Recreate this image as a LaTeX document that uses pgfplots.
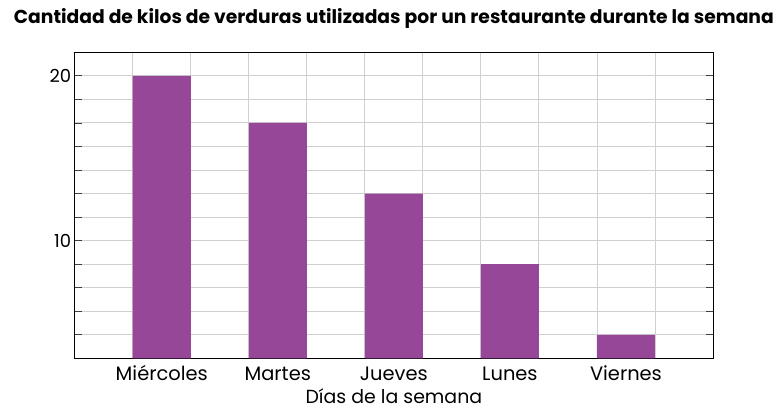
\documentclass[border=0pt]{standalone}
\usepackage{fontspec}
\setmainfont{Poppins}
\usepackage{pgfplots}
\pgfplotsset{compat=1.18}
\definecolor{barpurple}{RGB}{151,71,151}
\definecolor{gridgray}{RGB}{208,208,208}
\begin{document}
\begin{tikzpicture}
\begin{axis}[
  at={(74.7bp,53.7bp)}, anchor=south west,
  scale only axis, width=638.3bp, height=306bp,
  xmin=0, xmax=11, ymin=2.857143, ymax=21.428571,
  axis line style={black, line width=0.9bp},
  xtick={1,...,10}, xticklabels={},
  major x tick style={draw=none},
  xmajorgrids,
  extra x ticks={1.5,3.5,5.5,7.5,9.5},
  extra x tick labels={Miércoles,Martes,Jueves,Lunes,Viernes},
  extra x tick style={grid=none, major tick length=0pt},
  ytick={10,20},
  minor ytick={4.285714,5.714286,7.142857,8.571429,11.428571,12.857143,14.285714,15.714286,17.142857,18.571429},
  ymajorgrids, yminorgrids,
  grid style={gridgray, line width=0.9bp},
  ytick pos=both,
  tick align=inside,
  major tick length=7bp, minor tick length=7bp,
  tick style={black!75, line width=0.8bp},
  /pgf/number format/assume math mode=true,
  yticklabel style={font=\fontsize{18}{21}\selectfont, text=black},
  xticklabel style={font=\fontsize{19.5}{23}\selectfont, text=black, anchor=base, yshift=-22.5bp},
  xlabel={Días de la semana},
  xlabel style={font=\fontsize{19}{23}\selectfont, at={(axis description cs:0.5,0)}, anchor=base, inner sep=0pt, text depth=0pt, yshift=-45bp},
  title={\bfseries Cantidad de kilos de verduras utilizadas por un restaurante durante la semana},
  title style={font=\fontsize{18.8}{22}\selectfont, at={(axis description cs:0.5,1)}, anchor=base, yshift=23.3bp},
  clip=false,
]
\addplot[ybar, bar width=1, bar shift=0pt, fill=barpurple, draw=none]
  coordinates {(1.5,20) (3.5,17.142857) (5.5,12.857143) (7.5,8.571429) (9.5,4.285714)};
\end{axis}
\pgfresetboundingbox
\path[use as bounding box] (0,0) rectangle (778bp,412bp);
\end{tikzpicture}
\end{document}
